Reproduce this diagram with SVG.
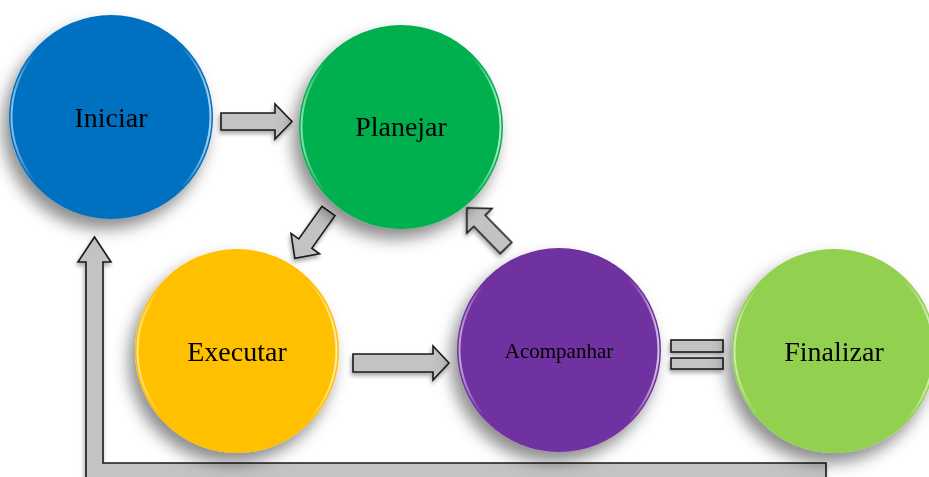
<svg xmlns="http://www.w3.org/2000/svg" width="929" height="477" viewBox="0 0 929 477">
<defs>
<filter id="sh" x="-30%" y="-30%" width="160%" height="170%">
<feDropShadow dx="-6" dy="10" stdDeviation="8" flood-color="#000" flood-opacity="0.45"/>
</filter>
<filter id="ash" x="-20%" y="-20%" width="140%" height="160%">
<feDropShadow dx="-1" dy="3" stdDeviation="2" flood-color="#000" flood-opacity="0.35"/>
</filter>
<linearGradient id="rg" x1="0" y1="0" x2="1" y2="0">
<stop offset="0" stop-color="#fff" stop-opacity="0.55"/>
<stop offset="0.12" stop-color="#fff" stop-opacity="0"/>
<stop offset="0.85" stop-color="#fff" stop-opacity="0"/>
<stop offset="1" stop-color="#fff" stop-opacity="0.7"/>
</linearGradient>
<style>
.lbl{font-family:"Liberation Serif","DejaVu Serif",serif;fill:#000;text-anchor:middle}
.big{font-size:28px}
.sm{font-size:21px}
.rim{fill:none;stroke:url(#rg);stroke-width:2}
.arr{fill:#c3c3c3;stroke:#1a1a1a;stroke-width:1.6;stroke-linejoin:miter}
</style>
</defs>
<rect width="929" height="477" fill="#fff"/>
<g id="connectors" filter="url(#ash)">
<polygon class="arr" points="221,113 275,113 275,104 292,121.5 275,139 275,130 221,130"/>
<polygon class="arr" points="353,354 433,354 433,346 449,363 433,380 433,372 353,372"/>
<g transform="translate(328.5,211) rotate(125.5)">
<polygon class="arr" points="0,-8 40,-8 40,-17.5 58,0 40,17.5 40,8 0,8"/>
</g>
<g transform="translate(506,248) rotate(225.7)">
<polygon class="arr" points="0,-8 38,-8 38,-17.5 56,0 38,17.5 38,8 0,8"/>
</g>
<rect class="arr" x="671" y="340" width="52" height="12"/>
<rect class="arr" x="671" y="358" width="52" height="11"/>
<polygon class="arr" points="94.5,237 111,262 103,262 103,463 826,463 826,490 86,490 86,262 78,262"/>
</g>
<g id="iniciar">
<circle cx="111" cy="117" r="102" fill="#0070c0" filter="url(#sh)"/>
<circle class="rim" cx="111" cy="117" r="99.5"/>
<text class="lbl big" x="111" y="127">Iniciar</text>
</g>
<g id="planejar">
<circle cx="401" cy="127" r="102" fill="#00b050" filter="url(#sh)"/>
<circle class="rim" cx="401" cy="127" r="99.5"/>
<text class="lbl big" x="401" y="136">Planejar</text>
</g>
<g id="executar">
<circle cx="237" cy="351" r="102" fill="#ffc000" filter="url(#sh)"/>
<circle class="rim" cx="237" cy="351" r="99.5"/>
<text class="lbl big" x="237" y="361">Executar</text>
</g>
<g id="acompanhar">
<circle cx="559" cy="350" r="102" fill="#7030a0" filter="url(#sh)"/>
<circle class="rim" cx="559" cy="350" r="99.5"/>
<text class="lbl sm" x="559" y="358">Acompanhar</text>
</g>
<g id="finalizar">
<circle cx="834" cy="351" r="102" fill="#92d050" filter="url(#sh)"/>
<circle class="rim" cx="834" cy="351" r="99.5"/>
<text class="lbl big" x="834" y="361">Finalizar</text>
</g>
</svg>
